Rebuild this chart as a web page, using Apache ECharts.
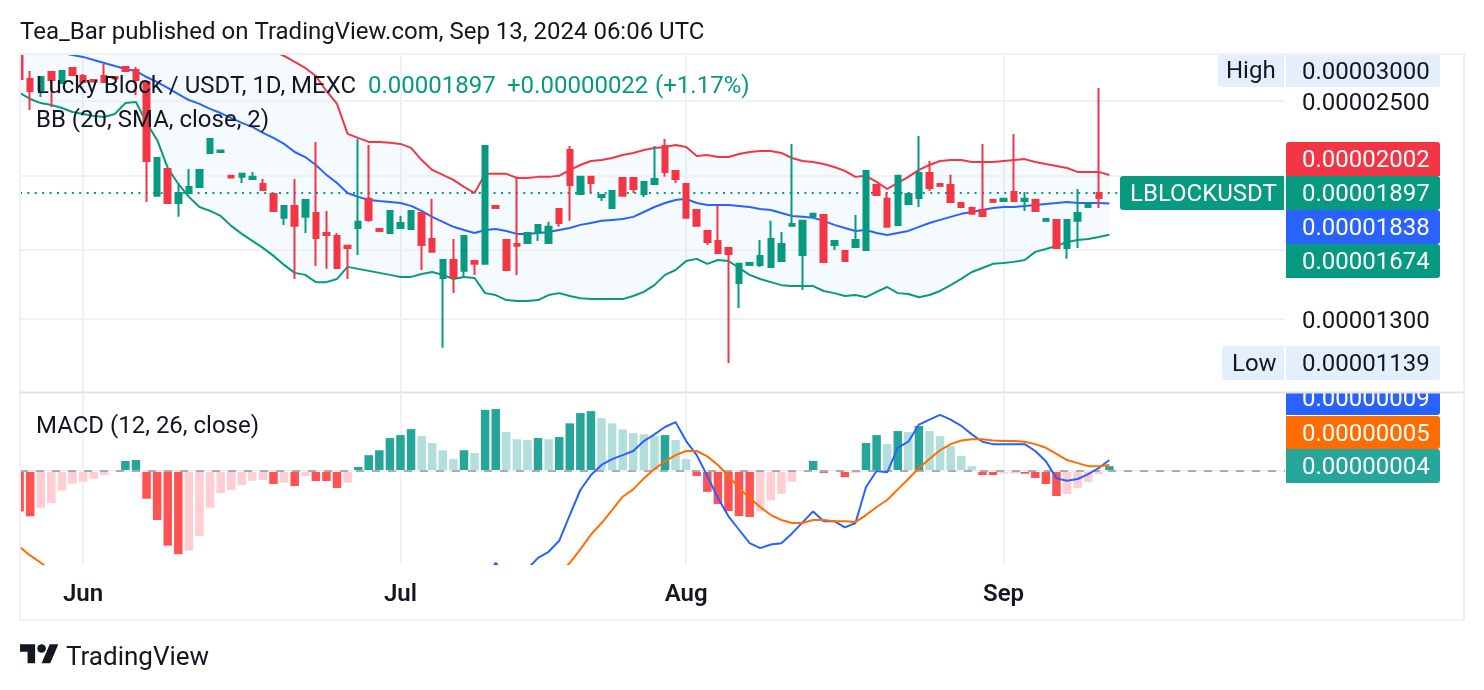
<!DOCTYPE html>
<html>
<head>
<meta charset="utf-8">
<style>html,body{margin:0;padding:0;background:#fff}#chart{width:1484px;height:690px}</style>
<script src="https://cdn.jsdelivr.net/npm/echarts@6/dist/echarts.min.js"></script>
</head>
<body>
<div id="chart"></div>
<script>
// Prices are held in units of 0.00000001 USDT; one entry per daily bar.
const opens = [3000,2670,2584,2727,2638,2760,2694,2662,2694,2686,2768,2743,2646,1881,2039,1841,1897,1932,2139,2145,1997,1991,1979,1949,1892,1761,1825,1766,1787,1683,1668,1619,1708,1864,1703,1683,1708,1703,1787,1653,1470,1552,1502,1547,1534,1825,1648,1628,1633,1683,1633,1808,2158,1892,1991,1875,1814,1985,1985,1892,1949,2184,2027,1949,1803,1693,1643,1609,1448,1529,1529,1520,1547,1719,1575,1771,1776,1623,1594,1614,1599,1943,1864,1724,1836,1869,2015,1949,1943,1841,1814,1803,1858,1852,1903,1852,1858,1745,1750,1609,1745,1819,1869];
const closes = [2670,2576,2686,2662,2735,2703,2646,2650,2646,2675,2735,2662,2088,2107,1841,1897,1932,2033,2231,2155,1988,2009,1991,1914,1798,1825,1719,1858,1658,1673,1515,1609,1740,1750,1693,1798,1734,1798,1623,1590,1552,1475,1668,1534,2184,1814,1506,1619,1683,1724,1714,1734,1943,1991,1955,1886,1908,1881,1920,1961,1979,2021,1979,1761,1719,1638,1585,1580,1534,1538,1571,1653,1628,1729,1745,1782,1543,1643,1547,1648,2027,1886,1714,1997,1892,2015,1926,1938,1847,1819,1782,1771,1847,1864,1852,1864,1798,1755,1609,1750,1787,1836,1897];
const lows = [2507,2433,2530,2455,2638,2703,2646,2650,2646,2675,2727,2545,1847,1881,1841,1766,1897,1932,2139,2145,1985,1955,1979,1914,1798,1724,1466,1683,1524,1511,1515,1466,1575,1740,1693,1683,1708,1703,1506,1590,1193,1405,1475,1484,1534,1814,1506,1484,1633,1643,1633,1714,1745,1892,1897,1852,1814,1881,1897,1875,1949,1991,1955,1761,1719,1623,1585,1139,1344,1529,1520,1520,1547,1719,1418,1771,1543,1599,1547,1614,1599,1886,1714,1719,1836,1819,1908,1938,1841,1819,1782,1771,1847,1852,1852,1798,1798,1745,1609,1557,1609,1819,1814];
const highs = [3000,2735,2686,2727,2735,2760,2711,2662,2793,2686,2776,2768,2646,2107,2039,1955,2039,2033,2231,2155,1997,2009,2021,1979,1892,1825,1979,1858,2211,1798,1683,1619,2231,2191,1703,1798,1771,1798,1787,1864,1552,1653,1668,1547,2184,1825,1648,1991,1683,1724,1740,1814,2184,1991,1991,1886,1908,1985,1985,1961,2184,2231,2027,1949,1803,1693,1830,1609,1534,1538,1648,1745,1688,2198,1745,1782,1776,1643,1594,1776,2027,1949,1903,1997,1903,2251,2088,1949,2003,1841,1822,2198,1858,1864,2265,1903,1864,1755,1750,1750,1920,1836,2600];

// Bollinger Bands (20, SMA, close, 2)
const bbUpper = [3433,3425,3406,3356,3324,3319,3302,3264,3221,3148,3018,2978,3031,3068,3155,3155,3139,3137,3084,3051,3033,3004,2983,2935,2905,2861,2810,2760,2694,2576,2478,2265,2238,2211,2211,2205,2198,2172,2094,2033,2003,1973,1932,1897,2009,2009,2009,1985,1985,1991,1991,1997,2033,2063,2088,2094,2107,2126,2139,2158,2171,2178,2191,2178,2120,2126,2113,2113,2132,2145,2152,2152,2139,2107,2088,2082,2069,2051,2027,1991,1997,1961,1920,1955,1991,2033,2063,2088,2094,2094,2082,2082,2082,2088,2094,2100,2082,2069,2057,2045,2021,2021,2021,2002];
const bbMiddle = [2997,2970,2945,2913,2886,2869,2853,2827,2802,2776,2751,2735,2686,2646,2600,2552,2507,2478,2441,2411,2376,2341,2313,2272,2238,2198,2145,2113,2063,2003,1955,1897,1875,1858,1852,1847,1841,1825,1798,1766,1740,1714,1698,1683,1698,1703,1693,1678,1678,1683,1688,1698,1708,1724,1734,1745,1750,1755,1766,1792,1819,1841,1858,1864,1841,1830,1830,1830,1825,1819,1808,1803,1787,1771,1766,1761,1745,1724,1708,1693,1698,1683,1673,1683,1693,1714,1734,1750,1766,1782,1792,1803,1814,1819,1819,1825,1830,1836,1841,1847,1841,1841,1841,1838];
const bbLower = [2561,2515,2484,2470,2448,2419,2404,2390,2383,2404,2484,2492,2341,2224,2045,1949,1875,1819,1798,1771,1719,1678,1643,1609,1571,1529,1493,1484,1452,1452,1466,1520,1511,1502,1493,1484,1475,1475,1488,1497,1484,1466,1475,1470,1405,1397,1376,1372,1372,1376,1397,1405,1393,1384,1380,1380,1380,1380,1393,1410,1439,1484,1506,1547,1557,1534,1552,1547,1515,1484,1466,1452,1439,1435,1435,1435,1414,1405,1393,1397,1388,1410,1431,1405,1401,1388,1397,1414,1439,1466,1497,1515,1534,1538,1543,1552,1590,1604,1619,1638,1648,1653,1663,1674];

// MACD (12, 26, close), same units as the prices
const macdHist = [-33,-37,-30,-26,-16,-10.4,-8.7,-6.5,-3.3,0.5,8.2,9,-22.6,-40,-61,-68,-65,-53,-30,-18,-15.5,-11.4,-8,-7.4,-10.6,-9.5,-12.3,-4,-8.2,-8.2,-13.9,-9.5,3.3,13,17,27,29.4,34.3,28.6,22.9,17,9.8,17,14.7,50,50.7,31.9,26,25.3,27,26,27.8,39,47.4,49,43.3,39,34,31,30,28.6,29.4,25.3,9.8,-4,-17,-27,-32.7,-36.8,-37.6,-33,-24,-18.8,-8.7,0.5,8.2,-1.5,0.5,-5,-1.5,22.9,29.4,22,32.7,31.9,36.8,32.7,28.6,20.4,12.3,4,-3.3,-3.3,-2.2,-2,-2.2,-5.7,-10.6,-20.4,-18.8,-13.9,-9,-2.5,4];
const macdLine = [-95,-106,-105,-107,-101,-98,-99,-98,-96,-93,-83,-79,-117,-144,-180,-204,-218,-219,-203,-196,-197,-196,-195,-196,-203,-203,-209,-202,-208,-210,-220,-217,-204,-191,-183,-166,-157,-144,-142,-142,-144,-149,-138,-136,-89,-75,-86,-85,-80,-71,-66,-57,-36,-15.5,-3.3,5,9.8,13,16.4,24.5,30,36,40,24.5,13,-4,-22,-37,-48,-59,-63,-60,-59,-51,-42,-33,-41,-41,-46,-42.5,-13,0,-1,19,24,38,42,46,42,37,30,24,22,22,22,22,16.4,8,-6,-8,-6.5,-2.5,2.5,9];
const macdSignal = [-62,-69,-75,-81,-85,-88,-90,-92,-93,-93,-91,-88,-94,-104,-119,-136,-153,-166,-173,-178,-182,-185,-187,-189,-192,-194,-197,-198,-200,-202,-206,-208,-207,-204,-200,-193,-186,-178,-171,-165,-161,-159,-155,-151,-139,-126,-118,-111,-105,-98,-92,-85,-75,-64,-52,-42.5,-32,-21,-15,-6,1.6,8,13,16.4,16.4,12,5,-4,-14,-22,-29.4,-36,-40,-42.5,-42.5,-40,-40,-41,-41,-41.7,-36,-29.4,-23.7,-15,-6.5,2.5,9.8,17,22,25,26,26,25,24.5,24.5,24,22,19,14,9,6.5,4,4,5];

// Month marks on the time axis, by bar position
const monthBars = [6, 36, 63, 93];
const monthLabels = ['Jun', 'Jul', 'Aug', 'Sep'];

// Horizontal price levels and the two that carry an axis label
const priceLevels = [2500, 2000, 1600, 1300];
const labelledLevels = [2500, 1300];
const lastPrice = 1897;

const TEXT = '#131722', GREEN = '#089981', RED = '#F23645', BLUE = '#2962FF', ORANGE = '#FF6D00', TEAL = '#26A69A';
const GRID_LINE = '#f0f1f5', FONT = 'Roboto';
const SIZE = 24;

const priceText = v => (v / 1e8).toFixed(8);

// Histogram shade follows whether the bar grew or shrank against the previous one.
function histColor(i) {
  const v = macdHist[i], prev = i ? macdHist[i - 1] : v;
  if (v >= 0) return prev < v || !i ? TEAL : '#B2DFDB';
  return prev > v || prev === v || !i ? '#FF5252' : '#FFCDD2';
}

const candleData = opens.map((o, i) => {
  const item = { value: [i, o, closes[i], lows[i], highs[i]] };
  // The session still being traded keeps the down colour
  if (i === opens.length - 1) item.itemStyle = { color: RED, borderColor: RED };
  return item;
});

const xBase = { type: 'value', min: 0.038, max: 119.6, axisLine: { show: false } };
const xSplit = { show: true, lineStyle: { color: GRID_LINE, width: 2 } };

const lineSeries = (name, values, color, axisIdx, width) => ({
  name, type: 'line', xAxisIndex: axisIdx, yAxisIndex: axisIdx, z: 3,
  data: values.map((v, i) => [i, v]), showSymbol: false, symbol: 'none',
  lineStyle: { color, width }, silent: true, clip: true
});

function tag(x, y, w, h, fill, label, color, radius, textX, lift) {
  return [
    { type: 'rect', z: 20, shape: { x, y, width: w, height: h, r: radius }, style: { fill } },
    { type: 'text', z: 21, style: { text: label, x: textX, y: y + h / 2 + 2 - (lift || 0), fill: color, font: SIZE + 'px ' + FONT, verticalAlign: 'middle', align: 'left' } }
  ];
}

function plainText(text, x, y, color, size) {
  return { type: 'text', z: 22, style: { text, x, y, fill: color, font: (size || SIZE) + 'px ' + FONT, verticalAlign: 'middle', align: 'left' } };
}

const markers = [
  // Panes end at the frame: trim whatever runs past its top and left edges
  { type: 'rect', z: 15, shape: { x: 0, y: 39, width: 1484, height: 15 }, style: { fill: '#fff' } },
  { type: 'rect', z: 15, shape: { x: 0, y: 39, width: 20, height: 590 }, style: { fill: '#fff' } },
  plainText('Tea_Bar published on TradingView.com, Sep 13, 2024 06:06 UTC', 20, 33, TEXT),
  plainText('Lucky Block / USDT, 1D, MEXC', 36, 87, TEXT),
  plainText('0.00001897', 368, 87, GREEN),
  plainText('+0.00000022', 507, 87, GREEN),
  plainText('(+1.17%)', 655, 87, GREEN),
  plainText('BB (20, SMA, close, 2)', 36, 121, TEXT),
  plainText('MACD (12, 26, close)', 36, 427, TEXT),
  ...tag(1218, 54, 66, 33, '#E3EFFD', 'High', TEXT, [3, 0, 0, 3], 1226, 1),
  ...tag(1286, 54, 154, 33, '#E3EFFD', '0.00003000', TEXT, [0, 3, 3, 0], 1302),
  ...tag(1286, 142, 154, 34, RED, '0.00002002', '#fff', [3, 3, 0, 0], 1302),
  ...tag(1120, 176, 164, 34, GREEN, 'LBLOCKUSDT', '#fff', [3, 0, 0, 3], 1130),
  ...tag(1286, 176, 154, 34, GREEN, priceText(lastPrice), '#fff', [0, 3, 3, 0], 1302),
  ...tag(1286, 210, 154, 34, BLUE, '0.00001838', '#fff', [0, 3, 3, 0], 1302),
  ...tag(1286, 244, 154, 34, GREEN, '0.00001674', '#fff', [0, 3, 3, 0], 1302),
  ...tag(1222, 346, 62, 34, '#E3EFFD', 'Low', TEXT, [3, 0, 0, 3], 1232),
  ...tag(1286, 346, 154, 34, '#E3EFFD', '0.00001139', TEXT, [0, 3, 3, 0], 1302),
  ...tag(1286, 381, 154, 34, BLUE, '0.00000009', '#fff', [0, 3, 3, 0], 1302),
  ...tag(1286, 416, 154, 33, ORANGE, '0.00000005', '#fff', [0, 3, 3, 0], 1302),
  ...tag(1286, 449, 154, 34, TEAL, '0.00000004', '#fff', [0, 3, 3, 0], 1302),
  // Pane frame and the divider that also trims the indicator tag above the lower pane
  { type: 'rect', z: 30, shape: { x: 1286, y: 381, width: 154, height: 12 }, style: { fill: '#fff' } },
  { type: 'rect', z: 31, shape: { x: 20, y: 54, width: 1444, height: 566 }, style: { fill: 'none', stroke: GRID_LINE, lineWidth: 2 } },
  { type: 'line', z: 31, shape: { x1: 20, y1: 392.5, x2: 1464, y2: 392.5 }, style: { stroke: '#e0e3eb', lineWidth: 2 } },
  // Publisher mark
  { type: 'polygon', z: 22, x: 20, y: 640, scaleX: 1.08, scaleY: 1.06, shape: { points: [[0, 4], [14, 4], [14, 22], [7, 22], [7, 11], [0, 11]] }, style: { fill: TEXT } },
  { type: 'polygon', z: 22, x: 20, y: 640, scaleX: 1.08, scaleY: 1.06, shape: { points: [[20, 22], [28, 22], [35.5, 4], [27.5, 4]] }, style: { fill: TEXT } },
  { type: 'circle', z: 22, x: 20, y: 640, scaleX: 1.08, scaleY: 1.06, shape: { cx: 20, cy: 8, r: 4 }, style: { fill: TEXT } },
  plainText('TradingView', 66, 658, TEXT, 26)
];

const levelLines = priceLevels.map(yAxis => ({
  yAxis,
  lineStyle: { color: GRID_LINE, width: 2, type: 'solid' },
  label: labelledLevels.includes(yAxis)
    ? { show: true, position: 'end', distance: 17, offset: [0, 3], formatter: priceText(yAxis), color: TEXT, fontFamily: FONT, fontSize: SIZE }
    : { show: false }
}));
levelLines.push({
  yAxis: lastPrice,
  lineStyle: { color: GREEN, width: 2, type: [2, 5.4] },
  label: { show: false }
});

const option = {
  animation: false,
  backgroundColor: '#ffffff',
  textStyle: { fontFamily: FONT },
  grid: [
    { left: 20, width: 1265, top: 54, height: 338 },
    { left: 20, width: 1265, top: 394, height: 170 }
  ],
  xAxis: [
    { ...xBase, gridIndex: 0, axisTick: { show: false, customValues: monthBars }, axisLabel: { show: false, customValues: monthBars }, splitLine: xSplit },
    {
      ...xBase, gridIndex: 1,
      axisTick: { show: false, customValues: monthBars },
      splitLine: xSplit,
      axisLabel: {
        show: true, customValues: monthBars, margin: 19,
        color: TEXT, fontFamily: FONT, fontSize: SIZE, fontWeight: 600,
        formatter: v => monthLabels[monthBars.indexOf(v)]
      }
    }
  ],
  yAxis: [
    { type: 'log', gridIndex: 0, min: 1044.5, max: 2878, axisLine: { show: false }, axisTick: { show: false }, axisLabel: { show: false }, splitLine: { show: false }, minorSplitLine: { show: false } },
    { type: 'value', gridIndex: 1, min: -76, max: 63, axisLine: { show: false }, axisTick: { show: false }, axisLabel: { show: false }, splitLine: { show: false } }
  ],
  graphic: { elements: markers },
  series: [
    {
      name: 'BB fill', type: 'custom', xAxisIndex: 0, yAxisIndex: 0, z: 1, clip: true, silent: true,
      data: bbUpper.map((u, i) => [i, u, bbLower[i]]),
      encode: { x: 0, y: [1, 2] },
      renderItem(params, api) {
        if (params.dataIndex !== 0) return null;
        const top = bbUpper.map((v, i) => api.coord([i, v]));
        const bottom = bbLower.map((v, i) => api.coord([i, v])).reverse();
        return { type: 'polygon', shape: { points: top.concat(bottom) }, style: { fill: 'rgba(33,150,243,0.05)' } };
      },
      markLine: { silent: true, symbol: 'none', z: 2, animation: false, data: levelLines }
    },
    lineSeries('BB upper', bbUpper, RED, 0, 2),
    lineSeries('BB basis', bbMiddle, BLUE, 0, 2),
    lineSeries('BB lower', bbLower, GREEN, 0, 2),
    {
      name: 'LBLOCKUSDT', type: 'candlestick', xAxisIndex: 0, yAxisIndex: 0, z: 4, barWidth: 6,
      encode: { x: 0, y: [1, 2, 3, 4] }, data: candleData, clip: true, silent: true,
      itemStyle: { color: GREEN, color0: RED, borderColor: GREEN, borderColor0: RED, borderWidth: 2 }
    },
    {
      name: 'Histogram', type: 'bar', xAxisIndex: 1, yAxisIndex: 1, z: 2, barWidth: 8.5, silent: true,
      data: macdHist.map((v, i) => ({ value: [i, v], itemStyle: { color: histColor(i) } })),
      markLine: {
        silent: true, symbol: 'none', z: 3, animation: false, label: { show: false },
        data: [
          { yAxis: 0, lineStyle: { color: GRID_LINE, width: 2, type: 'solid' } },
          { yAxis: 0, lineStyle: { color: '#a9acb5', width: 2, type: [8, 8] } }
        ]
      }
    },
    lineSeries('MACD', macdLine, BLUE, 1, 2),
    lineSeries('Signal', macdSignal, ORANGE, 1, 2)
  ]
};

const chart = echarts.init(document.getElementById('chart'), null, { renderer: 'canvas', width: 1484, height: 690 });
chart.setOption(option);
</script>
</body>
</html>
